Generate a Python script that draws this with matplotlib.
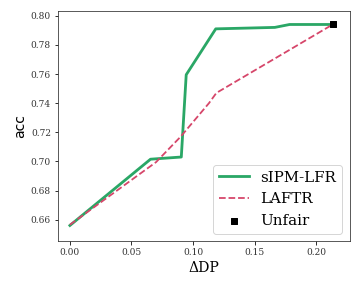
import matplotlib
matplotlib.use("Agg")
import matplotlib.pyplot as plt

# sIPM-LFR trade-off curve
sipm_dp = [0.0, 0.0655, 0.0905, 0.0945, 0.1185, 0.1665, 0.1785, 0.2135]
sipm_acc = [0.656, 0.7015, 0.703, 0.7595, 0.791, 0.792, 0.794, 0.794]

# LAFTR trade-off curve
laftr_dp = [0.0, 0.035, 0.07, 0.09, 0.113, 0.119, 0.2135]
laftr_acc = [0.6565, 0.678, 0.6995, 0.717, 0.740, 0.747, 0.794]

# unfair baseline
unfair_dp = [0.2135]
unfair_acc = [0.794]

fig, ax = plt.subplots(figsize=(5, 4), dpi=72)

ax.plot(sipm_dp, sipm_acc, color="#2aa766", lw=2.8, label="sIPM-LFR")
ax.plot(laftr_dp, laftr_acc, color="#d6466a", lw=1.8, ls="--", label="LAFTR")
ax.scatter(unfair_dp, unfair_acc, marker="s", color="black", s=40, zorder=3, label="Unfair")

ax.set_xlim(-0.0097, 0.2275)
ax.set_ylim(0.6453, 0.8033)
ax.set_xticks([0.0, 0.05, 0.10, 0.15, 0.20])
ax.set_yticks([0.66, 0.68, 0.70, 0.72, 0.74, 0.76, 0.78, 0.80])
ax.set_xticklabels(["0.00", "0.05", "0.10", "0.15", "0.20"])
ax.set_yticklabels(["0.66", "0.68", "0.70", "0.72", "0.74", "0.76", "0.78", "0.80"])
for lbl in ax.get_xticklabels() + ax.get_yticklabels():
    lbl.set_fontfamily("DejaVu Serif")
    lbl.set_fontsize(9)
    lbl.set_color("#333333")

ax.set_xlabel("ΔDP", fontsize=14, family="DejaVu Serif")
ax.set_ylabel("acc", fontsize=14)
for s in ax.spines.values():
    s.set_color("#333333")

ax.legend(loc="lower right", prop={"family": "DejaVu Serif", "size": 15},
          handlelength=2.0, borderaxespad=0.5)

fig.subplots_adjust(left=0.161, right=0.972, top=0.962, bottom=0.163)
fig.savefig("out.png", dpi=72)
